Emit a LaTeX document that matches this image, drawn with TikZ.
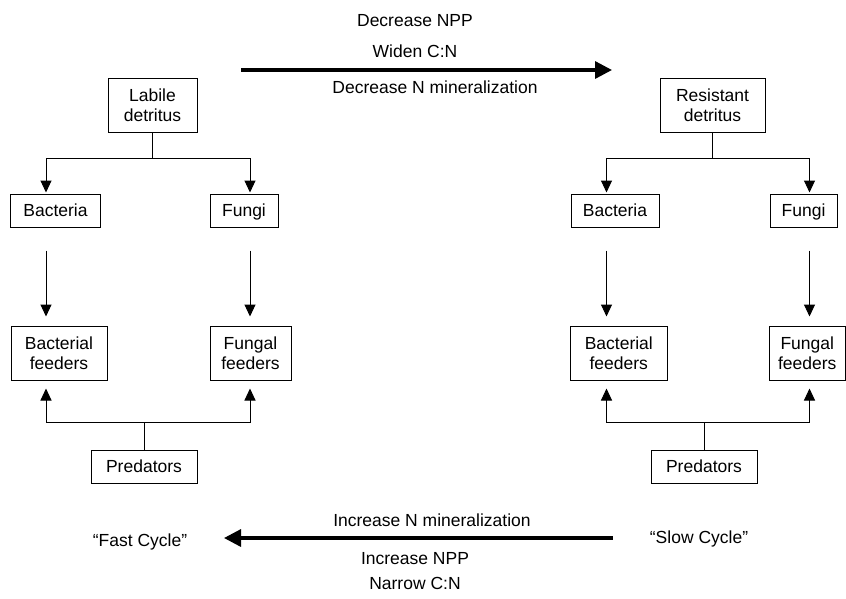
\documentclass[tikz,border=0pt]{standalone}
\usepackage{fontspec}
\setmainfont{Liberation Sans}
\usetikzlibrary{arrows.meta}
\begin{document}
\begin{tikzpicture}[x=1pt,y=-1pt,
  box/.style={draw, line width=1pt, inner sep=0pt, align=center, text depth=0pt, font=\fontsize{17.5}{19.5}\selectfont},
  lbl/.style={inner sep=0pt, anchor=base, font=\fontsize{17.5}{19.5}\selectfont},
  conn/.style={line width=1pt, -{Triangle[width=11pt,length=12pt]}},
  big/.style={line width=3.3pt, -{Triangle[width=17pt,length=17pt]}}]
\useasboundingbox (0,0) rectangle (846,598);

% column coordinates
\coordinate (cLa) at (46,0);
\coordinate (cLb) at (250,0);
\coordinate (cRa) at (606.5,0);
\coordinate (cRb) at (809.5,0);

% left nodes
\node[box, minimum width=89pt, minimum height=54pt] (lab) at (152.5,105.3) {Labile\\detritus};
\node[box, minimum width=89.5pt, minimum height=33pt] (bacL) at (55.5,210.5) {Bacteria};
\node[box, minimum width=68pt, minimum height=33pt] (fungL) at (244,210.5) {Fungi};
\node[box, minimum width=96pt, minimum height=54pt] (bfL) at (59,353) {Bacterial\\feeders};
\node[box, minimum width=81pt, minimum height=54pt] (ffL) at (250.5,353) {Fungal\\feeders};
\node[box, minimum width=106pt, minimum height=33pt] (predL) at (144,466.5) {Predators};

% right nodes
\node[box, minimum width=105pt, minimum height=54pt] (res) at (712.5,105.3) {Resistant\\detritus};
\node[box, minimum width=88pt, minimum height=33pt] (bacR) at (615,210.5) {Bacteria};
\node[box, minimum width=67pt, minimum height=33pt] (fungR) at (803.5,210.5) {Fungi};
\node[box, minimum width=96.5pt, minimum height=54pt] (bfR) at (618.8,353) {Bacterial\\feeders};
\node[box, minimum width=75.5pt, minimum height=54pt] (ffR) at (807.3,353) {Fungal\\feeders};
\node[box, minimum width=106pt, minimum height=33pt] (predR) at (704,466.5) {Predators};

% left connectors
\draw[conn, shorten >=1pt] (lab.south) -- ++(0,26) -| (bacL.north -| cLa);
\draw[conn, shorten >=1pt] (lab.south) -- ++(0,26) -| (fungL.north -| cLb);
\draw[conn, shorten <=23pt, shorten >=9pt] (bacL.south -| cLa) -- (bfL.north -| cLa);
\draw[conn, shorten <=23pt, shorten >=9pt] (fungL.south -| cLb) -- (ffL.north -| cLb);
\draw[conn, shorten >=8pt] (predL.north) -- ++(0,-27) -| (bfL.south -| cLa);
\draw[conn, shorten >=8pt] (predL.north) -- ++(0,-27) -| (ffL.south -| cLb);

% right connectors
\draw[conn, shorten >=1pt] (res.south) -- ++(0,26) -| (bacR.north -| cRa);
\draw[conn, shorten >=1pt] (res.south) -- ++(0,26) -| (fungR.north -| cRb);
\draw[conn, shorten <=23pt, shorten >=9pt] (bacR.south -| cRa) -- (bfR.north -| cRa);
\draw[conn, shorten <=23pt, shorten >=9pt] (fungR.south -| cRb) -- (ffR.north -| cRb);
\draw[conn, shorten >=8pt] (predR.north) -- ++(0,-27) -| (bfR.south -| cRa);
\draw[conn, shorten >=8pt] (predR.north) -- ++(0,-27) -| (ffR.south -| cRb);

% top labels and arrow
\node[lbl] (t1) at (415,26.5) {Decrease NPP};
\node[lbl] (t2) at (415,57) {Widen C:N};
\node[lbl] (t3) at (435,93) {Decrease N mineralization};
\coordinate (ta) at (241,70);
\coordinate (tb) at (612,70);
\draw[big] (ta) -- (tb);

% bottom labels and arrow
\node[lbl] (b1) at (432,526) {Increase N mineralization};
\node[lbl] (fast) at (140,546) {“Fast Cycle”};
\node[lbl] (slow) at (699,543) {“Slow Cycle”};
\node[lbl] (b2) at (415,564) {Increase NPP};
\node[lbl] (b3) at (415,589) {Narrow C:N};
\coordinate (ba) at (612.5,538);
\coordinate (bb) at (224,538);
\draw[big] (ba) -- (bb);
\end{tikzpicture}
\end{document}
